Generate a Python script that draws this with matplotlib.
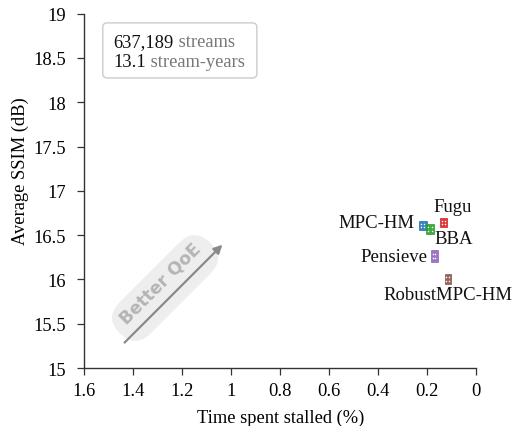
import matplotlib
matplotlib.use("Agg")
import matplotlib.pyplot as plt
from matplotlib.patches import Rectangle, FancyBboxPatch, FancyArrowPatch
from matplotlib.transforms import Affine2D

# Scheme results: stall ratio (%) and mean SSIM (dB), with CI half-widths
schemes = ["Fugu", "MPC-HM", "BBA", "Pensieve", "RobustMPC-HM"]
stall = [0.133, 0.218, 0.188, 0.171, 0.116]
ssim = [16.646, 16.607, 16.57, 16.262, 16.006]
stall_err = [0.013, 0.016, 0.016, 0.014, 0.012]
ssim_err = [0.05, 0.05, 0.06, 0.065, 0.06]
colors = ["#d62728", "#1f77b4", "#2ca02c", "#9467bd", "#8c564b"]

n_streams = "637,189"
stream_years = "13.1"

xticks = [1.6, 1.4, 1.2, 1, 0.8, 0.6, 0.4, 0.2, 0]
yticks = [15, 15.5, 16, 16.5, 17, 17.5, 18, 18.5, 19]

# label offsets in points and alignment
label_pos = {
    "Fugu": ((6.5, 11), "center", "center"),
    "MPC-HM": ((-6, 2), "right", "center"),
    "BBA": ((3, -7), "left", "center"),
    "Pensieve": ((-4.5, -0.5), "right", "center"),
    "RobustMPC-HM": ((0, -11), "center", "center"),
}

FS = 13.3
plt.rcParams.update({
    "font.family": "serif",
    "font.serif": ["Liberation Serif", "DejaVu Serif"],
    "font.size": FS,
})

fig = plt.figure(figsize=(5.13, 4.27), dpi=100)
ax = fig.add_axes([0.1637, 0.1358, 0.7642, 0.8298])

ax.set_xlim(1.6, 0)
ax.set_ylim(15, 19)
ax.set_xticks(xticks)
ax.set_xticklabels([f"{t:g}" for t in xticks])
ax.set_yticks(yticks)
ax.set_yticklabels([f"{t:g}" for t in yticks])
for s in ["top", "right"]:
    ax.spines[s].set_visible(False)
for s in ["left", "bottom"]:
    ax.spines[s].set_color("#333333")
    ax.spines[s].set_linewidth(1.0)
ax.tick_params(direction="out", length=5, width=0.9, color="#333333",
               labelsize=FS)
ax.tick_params(axis="x", pad=5)
ax.tick_params(axis="y", pad=8)
ax.set_xlabel("Time spent stalled (%)", fontsize=FS)
ax.set_ylabel("Average SSIM (dB)", fontsize=FS)
ax.xaxis.set_label_coords(0.501, -0.138)
ax.xaxis.label.set_va("center")
ax.yaxis.set_label_coords(-0.140, 0.559)

# confidence boxes
for x, y, dx, dy, c in zip(stall, ssim, stall_err, ssim_err, colors):
    ax.add_patch(Rectangle((x - dx, y - dy), 2 * dx, 2 * dy, facecolor=c,
                           edgecolor=c, linewidth=0.6, alpha=0.9, zorder=3))
    px = [x - dx * 0.4, x + dx * 0.4]
    py = [y - dy * 0.35, y + dy * 0.35]
    ax.scatter([px[0], px[0], px[1], px[1]], [py[0], py[1], py[0], py[1]],
               s=1.2, color="white", zorder=4, linewidths=0)

for name, x, y in zip(schemes, stall, ssim):
    off, ha, va = label_pos[name]
    ax.annotate(name, (x, y), xytext=off, textcoords="offset points",
                ha=ha, va=va, fontsize=FS + 0.2, color="#111111")

# dataset summary box
ax.add_patch(FancyBboxPatch((0.048, 0.8185), 0.393, 0.1555,
                            boxstyle="round,pad=0,rounding_size=0.012",
                            transform=ax.transAxes, facecolor="white",
                            edgecolor="#cccccc", linewidth=1.0, zorder=2))
t1 = ax.text(0.0748, 0.921, n_streams, transform=ax.transAxes,
             ha="left", va="center", fontsize=FS, color="#111111")
ax.annotate(" streams", xy=(1, 0), xycoords=t1, ha="left", va="bottom",
            fontsize=FS, color="#777777")
t2 = ax.text(0.0748, 0.8645, stream_years, transform=ax.transAxes,
             ha="left", va="center", fontsize=FS, color="#111111")
ax.annotate(" stream-years", xy=(1, 0), xycoords=t2, ha="left", va="bottom",
            fontsize=FS, color="#777777")

# "Better QoE" badge, rotated 45 degrees in figure inches
cx, cy = 1.65, 1.38
rot = Affine2D().rotate_deg(45).translate(cx, cy) + fig.dpi_scale_trans
L, W = 1.72, 0.44
fig.patches.append(FancyBboxPatch((-L / 2 + W / 2, -W / 2), L - W, W,
                                  boxstyle=f"round,pad=0,rounding_size={W/2}",
                                  transform=rot, facecolor="#eeeeee",
                                  edgecolor="none", figure=fig))
fig.patches.append(FancyArrowPatch((-0.70, -0.10), (0.74, -0.10),
                                   arrowstyle="-|>,head_length=5,head_width=2.5",
                                   transform=rot, color="#8a8a8a", lw=1.6,
                                   figure=fig))
fig.text(0, 0.065, "Better QoE", transform=rot, rotation=45,
         rotation_mode="anchor", ha="center", va="center",
         family="DejaVu Sans", fontweight="bold", fontsize=12.5,
         color="#b4b4b4")

fig.savefig("out.png", dpi=100)
